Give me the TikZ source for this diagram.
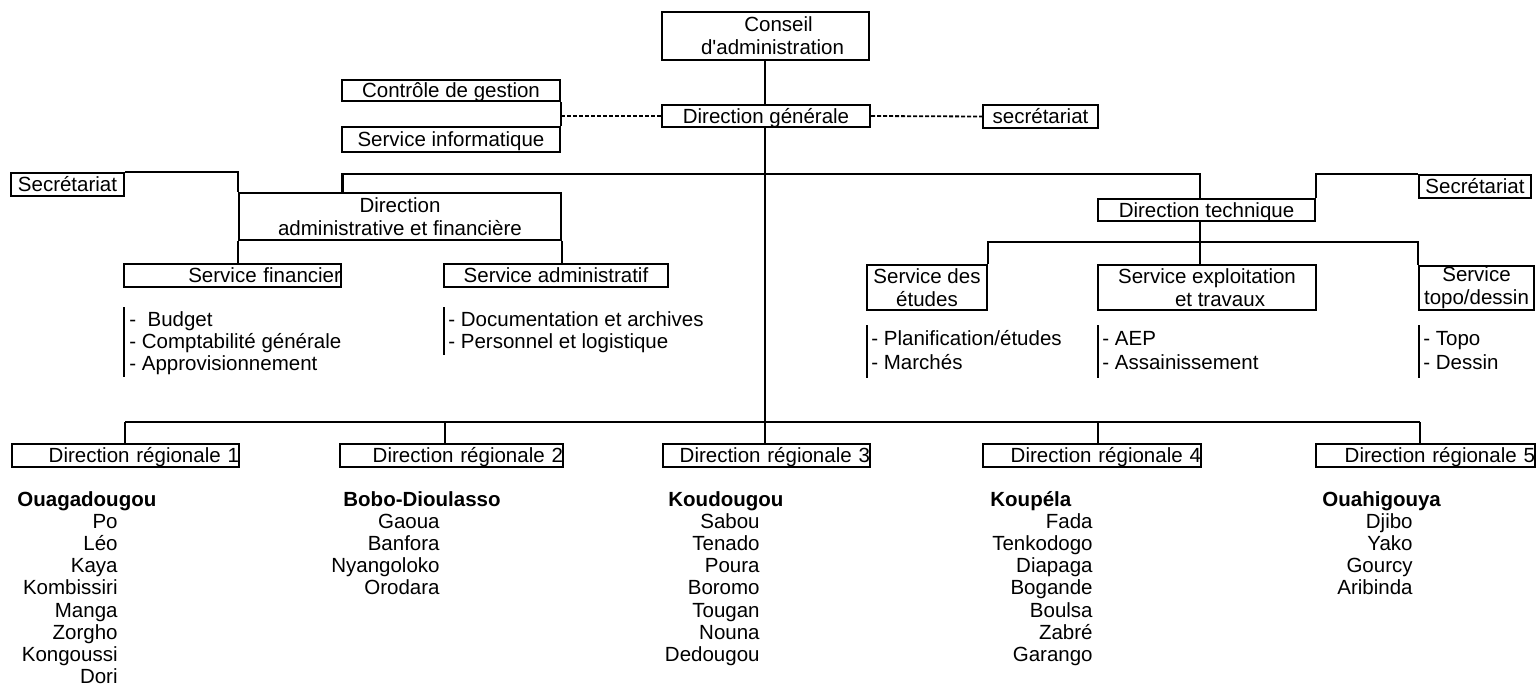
\documentclass[tikz,border=0pt]{standalone}
\usepackage{fontspec}
\setmainfont{Liberation Sans}[Ligatures=TeXOff]
\newcommand\dfs{\fontsize{10.25pt}{11.6pt}\selectfont}
\begin{document}
\begin{tikzpicture}[x=0.5pt,y=-0.5pt,
  box/.style={draw, line width=1.1pt, inner sep=0pt, align=center, font=\dfs},
  one/.style={text height=8.8pt, text depth=1.5pt},
  drbox/.style={box, one, minimum height=11.5pt, align=right},
  txt/.style={inner sep=0pt, font=\dfs},
  ln/.style={line width=1.1pt},
  dsh/.style={line width=0.9pt, dash pattern=on 2pt off 1pt}]
\useasboundingbox (0,0) rectangle (1536,690);

% top
\node[box, minimum width=103.5pt, minimum height=24pt] (ca) at (765.5,36) {\hspace*{13pt}Conseil\\\hspace*{7pt}d'administration};
\node[box, one, minimum width=104pt, minimum height=11pt] (dg) at (766,116) {Direction générale};
\node[box, one, minimum width=109pt, minimum height=10.5pt] (cg) at (451,90.5) {Contrôle de gestion};
\node[box, one, minimum width=109pt, minimum height=12.5pt] (si) at (451,139.5) {Service informatique};
\node[box, one, minimum width=57.5pt, minimum height=11.5pt] (sec0) at (1040.5,116.5) {secrétariat};

% second level
\node[box, one, minimum width=56.5pt, minimum height=11.5pt] (secL) at (67.5,184.5) {Secrétariat};
\node[box, minimum width=161pt, minimum height=23.5pt] (daf) at (400,216.5) {Direction\\administrative et financière};
\node[box, one, minimum width=108.5pt, minimum height=11pt] (dt) at (1206.5,210) {Direction technique};
\node[box, one, minimum width=56pt, minimum height=11.5pt] (secR) at (1475,186.5) {Secrétariat};

% services
\node[box, one, text width=108.5pt, minimum height=11.5pt, align=right] (sf) at (232.5,275.5) {Service financier\hspace*{10.5pt}};
\node[box, one, minimum width=112pt, minimum height=11.5pt] (sa) at (556,275.5) {Service administratif};
\node[box, minimum width=60pt, minimum height=22.5pt] (sde) at (927,287.5) {Service des\\études};
\node[box, minimum width=109pt, minimum height=22.5pt] (set) at (1207,287.5) {Service exploitation\\\hspace*{13pt}et travaux};
\node[box, minimum width=57.5pt, minimum height=22pt] (stp) at (1476.5,288) {Service\\topo/dessin};

% regional directions
\node[drbox, text width=113.5pt] (dr1) at (125.5,455.5) {Direction régionale 1\hspace*{4.5pt}};
\node[drbox, text width=111.5pt] (dr2) at (451.5,455.5) {Direction régionale 2\hspace*{5pt}};
\node[drbox, text width=103.5pt] (dr3) at (766.5,455.5) {Direction régionale 3\hspace*{4pt}};
\node[drbox, text width=109pt] (dr4) at (1092,455.5) {Direction régionale 4\hspace*{4pt}};
\node[drbox, text width=109.5pt] (dr5) at (1425.5,455.5) {Direction régionale 5\hspace*{4pt}};

% connector coordinates
\coordinate (d1) at (125,422);
\coordinate (d2) at (445,422);
\coordinate (d3) at (765,422);
\coordinate (d4) at (1098,422);
\coordinate (d5) at (1420,422);
\coordinate (tb1) at (342.5,174);
\coordinate (tb2) at (1200,174);
\coordinate (sb) at (1200,242);

\draw[ln] (d3 |- ca.south) -- (d3 |- dg.north);
\draw[ln] (d3 |- dg.south) -- (d3);
\draw[ln] (cg.south east) -- (si.north east);
\draw[dsh] (cg.east |- dg.west) -- (dg.west);
\draw[dsh] (dg.east) -- (sec0.west);

\draw[ln] (secL.north east) -| (daf.north west);
\draw[ln] (tb1 |- daf.north) -- (tb1) -- (tb2) -- (tb2 |- dt.north);
\draw[ln] (dt.north east) |- (secR.north west);
\draw[ln] (daf.south west) -- (daf.south west |- sf.north);
\draw[ln] (daf.south east) -- (daf.south east |- sa.north);
\draw[ln] (tb2 |- dt.south) -- (tb2 |- set.north);
\draw[ln] (sde.north east) |- (sb -| stp.north west) -- (stp.north west);

\draw[ln] (d1) -- (d5);
\foreach \k in {1,...,5} \draw[ln] (d\k) -- (d\k |- dr\k.north);

% service lists
\draw[ln] (124,307) -- (124,377);
\node[txt, anchor=base west] (l11) at (129,326.5) {-~ Budget};
\node[txt, anchor=base west] (l12) at (129,348.5) {- Comptabilité générale};
\node[txt, anchor=base west] (l13) at (129,370.5) {- Approvisionnement};
\draw[ln] (444,307) -- (444,355);
\node[txt, anchor=base west] (l21) at (448,326.5) {- Documentation et archives};
\node[txt, anchor=base west] (l22) at (448,348.5) {- Personnel et logistique};
\draw[ln] (867,325) -- (867,378);
\node[txt, anchor=base west] (l31) at (871,345.5) {- Planification/études};
\node[txt, anchor=base west] (l32) at (871,369.5) {- Marchés};
\draw[ln] (1098,325) -- (1098,378);
\node[txt, anchor=base west] (l41) at (1102,345.5) {- AEP};
\node[txt, anchor=base west] (l42) at (1102,369.5) {- Assainissement};
\draw[ln] (1419,325) -- (1419,378);
\node[txt, anchor=base west] (l51) at (1423,345.5) {- Topo};
\node[txt, anchor=base west] (l52) at (1423,369.5) {- Dessin};

% city lists
\node[txt, font=\dfs\bfseries, anchor=base west] (h1) at (17,506) {Ouagadougou};
\foreach \t [count=\i] in {Po,Léo,Kaya,Kombissiri,Manga,Zorgho,Kongoussi,Dori}
  \node[txt, anchor=base east] (c1\i) at (118,{506+22.2*\i}) {\t};
\node[txt, font=\dfs\bfseries, anchor=base west] (h2) at (343,506) {Bobo-Dioulasso};
\foreach \t [count=\i] in {Gaoua,Banfora,Nyangoloko,Orodara}
  \node[txt, anchor=base east] (c2\i) at (440,{506+22.2*\i}) {\t};
\node[txt, font=\dfs\bfseries, anchor=base west] (h3) at (668,506) {Koudougou};
\foreach \t [count=\i] in {Sabou,Tenado,Poura,Boromo,Tougan,Nouna,Dedougou}
  \node[txt, anchor=base east] (c3\i) at (760,{506+22.2*\i}) {\t};
\node[txt, font=\dfs\bfseries, anchor=base west] (h4) at (990,506) {Koupéla};
\foreach \t [count=\i] in {Fada,Tenkodogo,Diapaga,Bogande,Boulsa,Zabré,Garango}
  \node[txt, anchor=base east] (c4\i) at (1093,{506+22.2*\i}) {\t};
\node[txt, font=\dfs\bfseries, anchor=base west] (h5) at (1322,506) {Ouahigouya};
\foreach \t [count=\i] in {Djibo,Yako,Gourcy,Aribinda}
  \node[txt, anchor=base east] (c5\i) at (1413,{506+22.2*\i}) {\t};
\end{tikzpicture}
\end{document}
